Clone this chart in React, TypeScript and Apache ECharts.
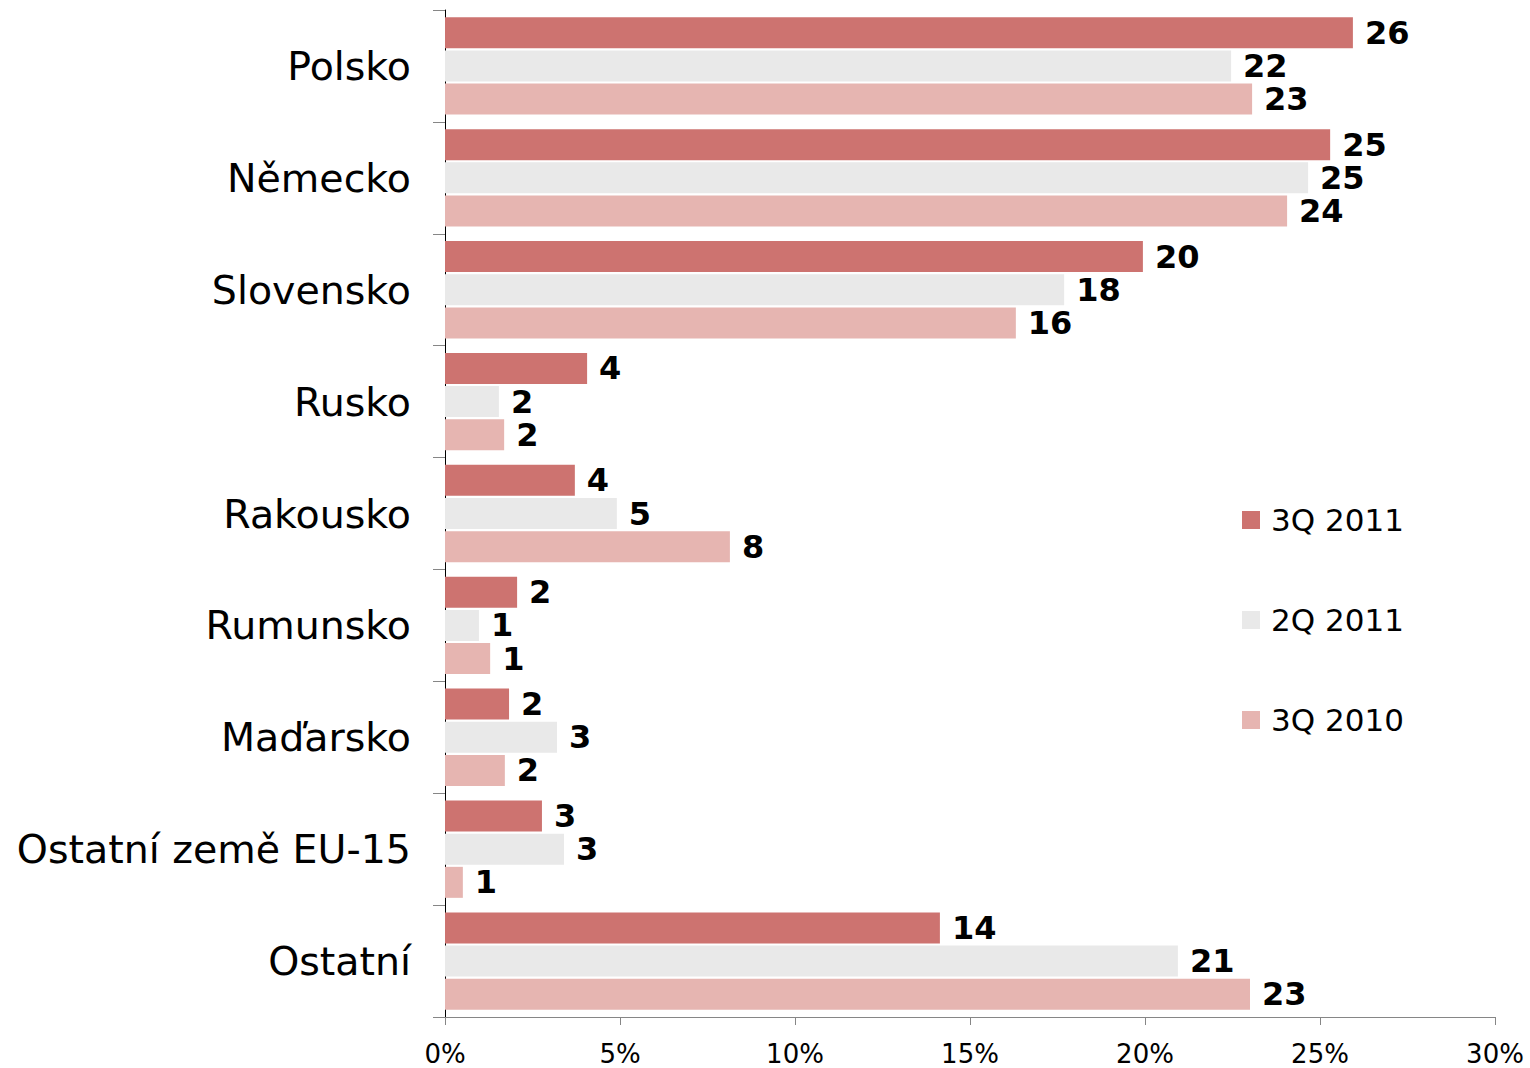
import React, { useEffect, useRef } from "react";
import * as echarts from "echarts";

const categories = [
  "Polsko",
  "Německo",
  "Slovensko",
  "Rusko",
  "Rakousko",
  "Rumunsko",
  "Maďarsko",
  "Ostatní země EU-15",
  "Ostatní",
];
const seriesNames = ["3Q 2011", "2Q 2011", "3Q 2010"];
const q3_2011 = [25.94, 25.29, 19.94, 4.06, 3.71, 2.06, 1.83, 2.77, 14.14];
const q2_2011 = [22.46, 24.66, 17.69, 1.54, 4.91, 0.97, 3.2, 3.4, 20.94];
const q3_2010 = [23.06, 24.06, 16.31, 1.69, 8.14, 1.29, 1.71, 0.51, 23.0];
const xTicks = [0, 5, 10, 15, 20, 25, 30];
const colors = ["#cd7370", "#e9e9e9", "#e6b5b1"];

const FONT = "DejaVu Sans";

export default function App() {
  const ref = useRef<HTMLDivElement>(null);
  useEffect(() => {
    if (!ref.current) return;
    const chart = echarts.init(ref.current, undefined, { renderer: "svg" });
    const values = [q3_2011, q2_2011, q3_2010];
    chart.setOption({
      animation: false,
      grid: { left: 445, right: 35, top: 10, bottom: 51, containLabel: false },
      legend: {
        orient: "vertical",
        left: 1242,
        top: 504,
        padding: 0,
        itemWidth: 18,
        itemHeight: 18,
        itemGap: 68,
        icon: "rect",
        data: seriesNames,
        textStyle: {
          fontFamily: FONT,
          fontSize: 31,
          color: "#000",
          lineHeight: 32,
          padding: [0, 0, 0, 6],
        },
      },
      xAxis: {
        type: "value",
        min: xTicks[0],
        max: xTicks[xTicks.length - 1],
        interval: 5,
        axisLine: { show: true, lineStyle: { color: "#868686", width: 1 } },
        axisTick: { show: true, length: 8, lineStyle: { color: "#868686" } },
        splitLine: { show: false },
        axisLabel: {
          formatter: "{value}%",
          fontFamily: FONT,
          fontSize: 26,
          color: "#000",
          margin: 24,
        },
      },
      yAxis: {
        type: "category",
        data: categories,
        inverse: true,
        axisLine: { show: true, lineStyle: { color: "#000", width: 1 } },
        axisTick: { show: true, length: 12, lineStyle: { color: "#868686" } },
        axisLabel: {
          fontFamily: FONT,
          fontSize: 39.5,
          color: "#000",
          margin: 34,
        },
      },
      series: seriesNames.map((name, i) => ({
        name,
        type: "bar",
        data: values[i],
        barWidth: 31,
        barGap: "7%",
        itemStyle: { color: colors[i] },
        label: {
          show: true,
          position: "right",
          distance: 12,
          formatter: (p: any) => String(Math.round(p.value)),
          fontFamily: FONT,
          fontSize: 32,
          lineHeight: 30,
          fontWeight: "bold",
          color: "#000",
        },
      })),
    });
    return () => chart.dispose();
  }, []);
  return <div ref={ref} style={{ width: 1530, height: 1068, position: "absolute", left: 0, top: 0 }} />;
}
